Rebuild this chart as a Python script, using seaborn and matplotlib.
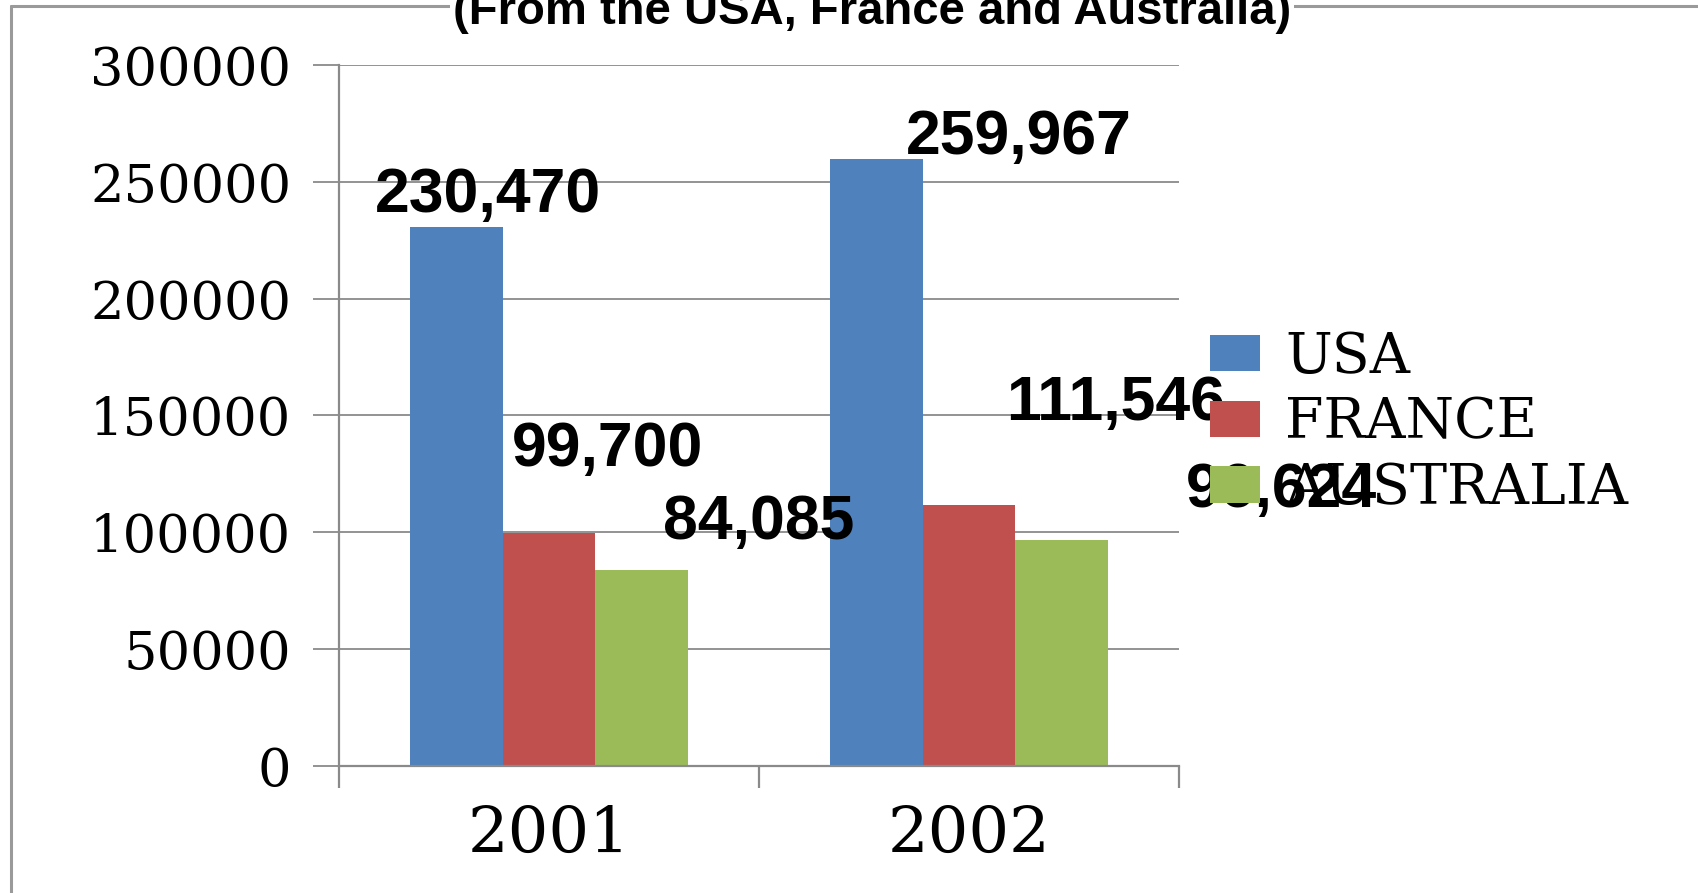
import matplotlib
matplotlib.use("Agg")
import matplotlib.pyplot as plt
from matplotlib.lines import Line2D
import seaborn as sns
import pandas as pd

# ---- data ----
years = ["2001", "2002"]
countries = ["USA", "FRANCE", "AUSTRALIA"]
usa = [230470, 259967]
france = [99700, 111546]
australia = [84085, 96624]
value_labels = {
    "USA": ["230,470", "259,967"],
    "FRANCE": ["99,700", "111,546"],
    "AUSTRALIA": ["84,085", "96,624"],
}
# hand-placed label anchors (data coords) as in the original picture
label_xy = {
    "USA": [(-0.146, 237300), (1.118, 261900)],
    "FRANCE": [(0.140, 128200), (1.348, 148100)],
    "AUSTRALIA": [(0.500, 97100), (1.743, 111000)],
}
title_text = "(From the USA, France and Australia)"
yticks = [0, 50000, 100000, 150000, 200000, 250000, 300000]
colors = ["#4F81BD", "#C0504D", "#9BBB59"]

rows = []
for c, vals in zip(countries, [usa, france, australia]):
    for y, v in zip(years, vals):
        rows.append({"year": y, "country": c, "value": v})
df = pd.DataFrame(rows)

sns.set_style("white")
plt.rcParams["font.family"] = ["DejaVu Serif"]
plt.rcParams["text.color"] = "black"

W, H = 1699, 893
fig = plt.figure(figsize=(W / 100, H / 100), dpi=100)
ax = fig.add_axes([339 / W, 1 - 766 / H, (1179 - 339) / W, (766 - 65) / H])

sns.barplot(data=df, x="year", y="value", hue="country", order=years,
            hue_order=countries, palette=colors, width=0.66, gap=0,
            saturation=1, linewidth=0, ax=ax, legend=True)

handles, labels = ax.get_legend_handles_labels()
ax.get_legend().remove()

ax.set_xlim(-0.5, 1.5)
ax.set_ylim(0, 300000)
ax.set_yticks(yticks)
ax.set_yticklabels([str(t) for t in yticks])
ax.set_xlabel("")
ax.set_ylabel("")

grid_c = "#8a8a8a"
ax.yaxis.grid(True, color=grid_c, linewidth=1.3)
ax.set_axisbelow(True)
for s in ["top", "right"]:
    ax.spines[s].set_visible(False)
for s in ["left", "bottom"]:
    ax.spines[s].set_color(grid_c)
    ax.spines[s].set_linewidth(1.6)

ax.tick_params(axis="y", which="major", length=18.5, width=1.3, color=grid_c,
               pad=16, labelsize=38, direction="out", left=True,
               labelcolor="black")
ax.tick_params(axis="x", which="major", length=0, pad=28, labelsize=46,
               labelcolor="black")
ax.set_xticks([-0.5, 0.5, 1.5], minor=True)
ax.tick_params(axis="x", which="minor", length=15.5, width=1.6, color=grid_c,
               direction="out", bottom=True)

for c in countries:
    for (x, y), t in zip(label_xy[c], value_labels[c]):
        ax.text(x, y, t, ha="center", va="baseline", fontsize=45,
                fontweight="bold", family="Liberation Sans", color="black",
                clip_on=False, zorder=5)

fig.legend(handles, labels, loc="center left",
           bbox_to_anchor=(1210 / W, 1 - 423 / H), frameon=False,
           fontsize=40, borderpad=0, borderaxespad=0, handlelength=0.9,
           handleheight=0.63, handletextpad=0.45, labelspacing=0.2,
           labelcolor="black")

# outer frame (top and left edges)
frame_c = "#9a9a9a"
fig.add_artist(Line2D([11 / W, 11 / W], [0, 1 - 6 / H], transform=fig.transFigure,
                      color=frame_c, linewidth=2.2))
fig.add_artist(Line2D([11 / W, 1], [1 - 6 / H, 1 - 6 / H], transform=fig.transFigure,
                      color=frame_c, linewidth=2.2))

fig.text(872 / W, 1 - 24 / H, title_text, ha="center", va="baseline",
         fontsize=34, fontweight="bold", family="Liberation Sans",
         bbox=dict(facecolor="white", edgecolor="none", pad=2), zorder=10)

fig.savefig("out.png", dpi=100, facecolor="white")
